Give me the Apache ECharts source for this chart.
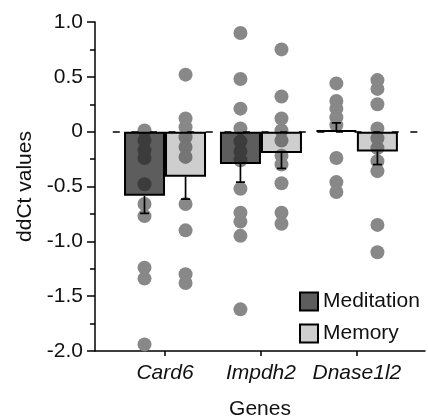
<!DOCTYPE html>
<html>
<head>
<meta charset="utf-8">
<title>ddCt values</title>
<script src="https://cdn.jsdelivr.net/npm/echarts@6.0.0/dist/echarts.min.js"></script>
<style>
  html, body { margin: 0; padding: 0; background: #fff; }
  #chartBox { width: 428px; height: 416px; }
</style>
</head>
<body>
<div id="chartBox"></div>
<script>
  // 基因（横轴）
  let genes = ['Card6', 'Impdh2', 'Dnase1l2']
  let groupNames = ['Meditation', 'Memory']
  // 柱子：均值
  let meditationMean = [-0.585, -0.295, 0.01]
  let memoryMean = [-0.41, -0.195, -0.18]
  // 误差线端点
  let meditationErr = [-0.745, -0.46, 0.08]
  let memoryErr = [-0.615, -0.335, -0.30]
  // 单个样本点
  let meditationDots = [
    [0.01, -0.08, -0.17, -0.24, -0.48, -0.66, -0.77, -1.24, -1.34, -1.94],
    [0.90, 0.48, 0.21, 0.03, -0.09, -0.18, -0.26, -0.52, -0.74, -0.82, -0.95, -1.62],
    [0.44, 0.28, 0.21, 0.13, 0.06, -0.24, -0.46, -0.55]
  ]
  let memoryDots = [
    [0.52, 0.12, 0.04, -0.05, -0.14, -0.23, -0.66, -0.90, -1.30, -1.38],
    [0.75, 0.32, 0.12, 0.01, -0.08, -0.22, -0.30, -0.47, -0.74, -0.84],
    [0.47, 0.39, 0.25, 0.03, -0.06, -0.15, -0.27, -0.36, -0.85, -1.10]
  ]
  // 纵轴刻度文字
  let yTicks = ['-2.0', '-1.5', '-1.0', '-0.5', '0', '0.5', '1.0']

  let font = '"Liberation Sans", Arial, sans-serif'
  let half = 0.214 // 半根柱子宽度（横轴单位）

  function dots (list, side) {
    let out = []
    list.forEach((vals, i) => {
      vals.forEach(v => out.push([i + 1 + side * half, v]))
    })
    return out
  }

  function errorBars (name, means, ends, side) {
    return {
      name: name,
      type: 'custom',
      z: 4,
      silent: true,
      data: means.map((m, i) => [i + 1 + side * half, m, ends[i]]),
      renderItem: function (params, api) {
        let top = api.coord([api.value(0), api.value(1)])
        let end = api.coord([api.value(0), api.value(2)])
        let style = { stroke: '#000', lineWidth: 1.7 }
        return {
          type: 'group',
          children: [
            { type: 'line', shape: { x1: top[0], y1: top[1], x2: end[0], y2: end[1] }, style: style },
            { type: 'line', shape: { x1: end[0] - 4.5, y1: end[1], x2: end[0] + 4.5, y2: end[1] }, style: style }
          ]
        }
      }
    }
  }

  let myChart = echarts.init(document.getElementById('chartBox'))
  let option = {
    animation: false,
    textStyle: { fontFamily: font },
    grid: { left: 95, right: 3, top: 22, bottom: 65, containLabel: false, outerBoundsMode: 'none' },
    legend: {
      data: groupNames,
      orient: 'vertical',
      left: 299,
      top: 291,
      padding: 0,
      itemWidth: 18,
      itemHeight: 18,
      itemGap: 11,
      icon: 'rect',
      textStyle: { fontSize: 21, color: '#111', fontFamily: font }
    },
    xAxis: {
      type: 'value',
      min: 0.27,
      max: 3.71,
      name: 'Genes',
      nameLocation: 'middle',
      nameGap: 48,
      nameTextStyle: { fontSize: 21, color: '#111', fontFamily: font },
      axisLine: { show: true, onZero: false, lineStyle: { color: '#000', width: 1.5 } },
      axisTick: { show: true, length: 5, customValues: [1, 2, 3], lineStyle: { color: '#000', width: 1.5 } },
      axisLabel: {
        customValues: [1, 2, 3],
        formatter: function (v) { return genes[Math.round(v) - 1] },
        fontStyle: 'italic',
        fontSize: 21,
        color: '#111',
        margin: 12
      },
      splitLine: { show: false }
    },
    yAxis: {
      type: 'value',
      min: -2,
      max: 1,
      interval: 0.5,
      name: 'ddCt values',
      nameLocation: 'middle',
      nameGap: 56,
      nameRotate: 90,
      nameTextStyle: { fontSize: 21, color: '#111', fontFamily: font },
      axisLine: { show: true, onZero: false, lineStyle: { color: '#000', width: 1.5 } },
      axisTick: { show: true, length: 8, lineStyle: { color: '#000', width: 1.5 } },
      minorTick: { show: true, splitNumber: 2, length: 5, lineStyle: { color: '#000', width: 1.5 } },
      axisLabel: {
        formatter: function (v) { return yTicks[Math.round((v + 2) / 0.5)] },
        fontSize: 21,
        color: '#111',
        margin: 12
      },
      splitLine: { show: false }
    },
    series: [
      {
        name: 'dotsMeditation',
        type: 'scatter',
        z: 1,
        symbolSize: 14,
        itemStyle: { color: '#888', opacity: 1 },
        data: dots(meditationDots, -1),
        // 0 处虚线
        markLine: {
          silent: true,
          symbol: 'none',
          label: { show: false },
          lineStyle: { color: '#000', type: [7, 11.6], width: 1.5 },
          data: [[{ coord: [0.455, 0] }, { coord: [3.64, 0] }]]
        }
      },
      {
        name: 'dotsMemory',
        type: 'scatter',
        z: 1,
        symbolSize: 14,
        itemStyle: { color: '#888', opacity: 1 },
        data: dots(memoryDots, 1)
      },
      {
        name: 'Meditation',
        type: 'bar',
        z: 2,
        barWidth: 41,
        barGap: '0%',
        itemStyle: { color: 'rgba(30,30,30,0.72)', borderColor: '#000', borderWidth: 2 },
        data: meditationMean.map((v, i) => [i + 1, v])
      },
      {
        name: 'Memory',
        type: 'bar',
        z: 2,
        barWidth: 41,
        barGap: '0%',
        itemStyle: { color: 'rgba(60,60,60,0.25)', borderColor: '#000', borderWidth: 2 },
        data: memoryMean.map((v, i) => [i + 1, v])
      },
      errorBars('errMeditation', meditationMean, meditationErr, -1),
      errorBars('errMemory', memoryMean, memoryErr, 1)
    ]
  }
  myChart.setOption(option)
</script>
</body>
</html>
